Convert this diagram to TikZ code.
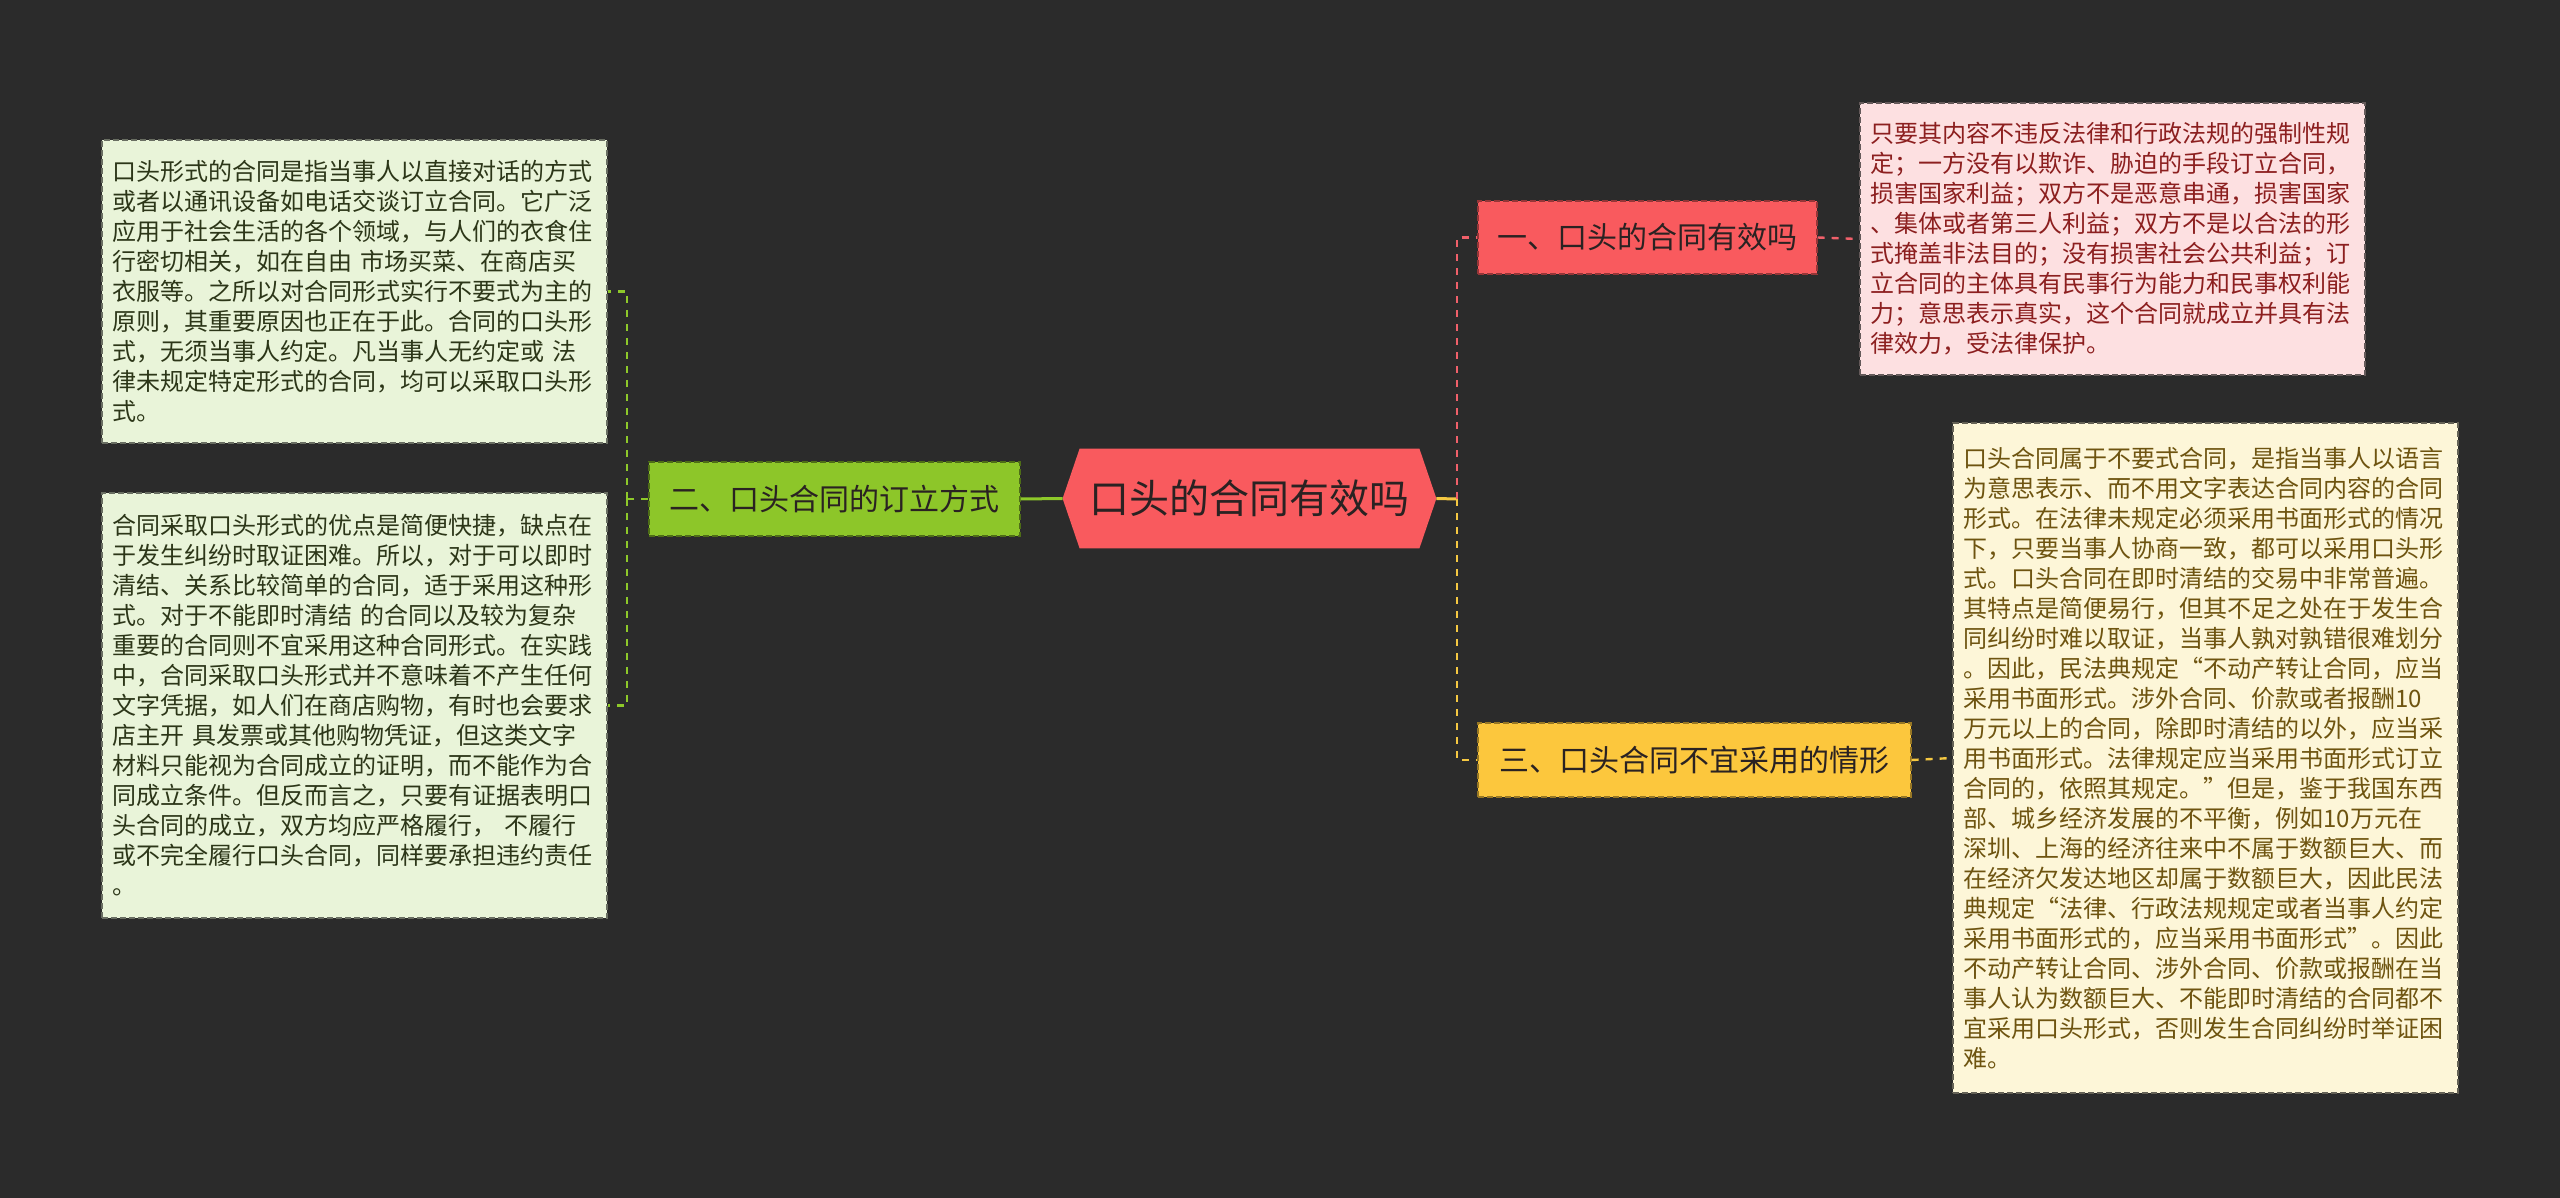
\documentclass[tikz,border=0pt]{standalone}
\usepackage{fontspec}
\newfontfamily\cjk{Noto Sans CJK SC}
\usetikzlibrary{calc,backgrounds}
\definecolor{bg}{HTML}{2B2B2B}
\definecolor{cfill}{HTML}{F95A5E}
\definecolor{gfill}{HTML}{8DC629}
\definecolor{gline}{HTML}{8EC92A}
\definecolor{yfill}{HTML}{FCC73D}
\definecolor{yline}{HTML}{F5C842}
\definecolor{rline}{HTML}{F0606A}
\definecolor{lfill}{HTML}{E9F4D9}
\definecolor{ltext}{HTML}{2C3618}
\definecolor{rtfill}{HTML}{FDE0E1}
\definecolor{rttext}{HTML}{8C1F1F}
\definecolor{rbfill}{HTML}{FDF6D8}
\definecolor{rbtext}{HTML}{6E5410}
\definecolor{ntext}{HTML}{2A2222}
\tikzset{
  textbox/.style={draw, dash pattern=on 3pt off 1.5pt, line width=0.6pt, align=left,
    text width=242pt, inner xsep=5pt, font=\cjk\fontsize{12}{15}\selectfont},
  lbox/.style={textbox, fill=lfill, draw=lfill!45!black, text=ltext,
    minimum width=252.5pt},
  rtbox/.style={textbox, fill=rtfill, draw=rtfill!40!black, text=rttext,
    minimum width=252.5pt},
  rbbox/.style={textbox, fill=rbfill, draw=rbfill!40!black, text=rbtext,
    minimum width=252.5pt},
  branch/.style={draw, dash pattern=on 3pt off 1.5pt, line width=0.6pt,
    font=\cjk\fontsize{15}{18}\selectfont, text=ntext, inner sep=0pt},
  mainnode/.style={inner sep=0pt, minimum width=186.5pt, minimum height=49.5pt,
    font=\cjk\fontsize{20}{24}\selectfont, text=ntext},
  dashline/.style={line width=1.2pt, dash pattern=on 3.5pt off 3.5pt},
  solidline/.style={line width=1.5pt}
}
\begin{document}
\begin{tikzpicture}[x=0.5pt,y=-0.5pt]
\begin{scope}[on background layer]
\fill[bg] (0,0) rectangle (2560,1198);
\end{scope}
\useasboundingbox (0,0) rectangle (2560,1198);

% left boxes
\node[lbox, minimum height=151.5pt] (l1) at (354.5,291.5) {口头形式的合同是指当事人以直接对话的方式\\或者以通讯设备如电话交谈订立合同。它广泛\\应用于社会生活的各个领域，与人们的衣食住\\行密切相关，如在自由 市场买菜、在商店买\\衣服等。之所以对合同形式实行不要式为主的\\原则，其重要原因也正在于此。合同的口头形\\式，无须当事人约定。凡当事人无约定或 法\\律未规定特定形式的合同，均可以采取口头形\\式。};
\node[lbox, minimum height=212.5pt] (l2) at (354.5,705.5) {合同采取口头形式的优点是简便快捷，缺点在\\于发生纠纷时取证困难。所以，对于可以即时\\清结、关系比较简单的合同，适于采用这种形\\式。对于不能即时清结 的合同以及较为复杂\\重要的合同则不宜采用这种合同形式。在实践\\中，合同采取口头形式并不意味着不产生任何\\文字凭据，如人们在商店购物，有时也会要求\\店主开 具发票或其他购物凭证，但这类文字\\材料只能视为合同成立的证明，而不能作为合\\同成立条件。但反而言之，只要有证据表明口\\头合同的成立，双方均应严格履行， 不履行\\或不完全履行口头合同，同样要承担违约责任\\。};

% right boxes
\node[rtbox, minimum height=136pt] (rt) at (2112.5,239) {只要其内容不违反法律和行政法规的强制性规\\定；一方没有以欺诈、胁迫的手段订立合同，\\损害国家利益；双方不是恶意串通，损害国家\\、集体或者第三人利益；双方不是以合法的形\\式掩盖非法目的；没有损害社会公共利益；订\\立合同的主体具有民事行为能力和民事权利能\\力；意思表示真实，这个合同就成立并具有法\\律效力，受法律保护。};
\node[rbbox, minimum height=335pt] (rb) at (2205.5,758) {口头合同属于不要式合同，是指当事人以语言\\为意思表示、而不用文字表达合同内容的合同\\形式。在法律未规定必须采用书面形式的情况\\下，只要当事人协商一致，都可以采用口头形\\式。口头合同在即时清结的交易中非常普遍。\\其特点是简便易行，但其不足之处在于发生合\\同纠纷时难以取证，当事人孰对孰错很难划分\\。因此，民法典规定“不动产转让合同，应当\\采用书面形式。涉外合同、价款或者报酬10\\万元以上的合同，除即时清结的以外，应当采\\用书面形式。法律规定应当采用书面形式订立\\合同的，依照其规定。”但是，鉴于我国东西\\部、城乡经济发展的不平衡，例如10万元在\\深圳、上海的经济往来中不属于数额巨大、而\\在经济欠发达地区却属于数额巨大，因此民法\\典规定“法律、行政法规规定或者当事人约定\\采用书面形式的，应当采用书面形式”。因此\\不动产转让合同、涉外合同、价款或报酬在当\\事人认为数额巨大、不能即时清结的合同都不\\宜采用口头形式，否则发生合同纠纷时举证困\\难。};

% branch nodes
\node[branch, fill=gfill, draw=gfill!55!black, minimum width=185.5pt, minimum height=37pt] (g) at (834.5,499) {二、口头合同的订立方式};
\node[branch, fill=cfill, draw=cfill!60!black, minimum width=169.5pt, minimum height=36.5pt] (r) at (1647.5,237.5) {一、口头的合同有效吗};
\node[branch, fill=yfill, draw=yfill!60!black, minimum width=216.5pt, minimum height=37pt] (y) at (1694.5,760) {三、口头合同不宜采用的情形};

% central node
\node[mainnode] (c) at (1249.5,498.5) {口头的合同有效吗};
\begin{scope}[on background layer]
\fill[cfill] (c.west) -- ($(c.north west)+(17,0)$) -- ($(c.north east)+(-17,0)$) -- (c.east)
  -- ($(c.south east)+(-17,0)$) -- ($(c.south west)+(17,0)$) -- cycle;
\end{scope}

% junctions
\coordinate (jl) at (627,499);
\coordinate (jr) at (1457,499);

% connectors
\draw[solidline, gline] (c.west) -- (g.east);
\draw[dashline, gline] (g.west) -- (jl);
\draw[dashline, gline] (jl) |- (l1.east);
\draw[dashline, gline] (jl) |- (l2.east);
\draw[solidline, yline] (c.east) -- (jr);
\draw[dashline, rline] (jr) |- (r.west);
\draw[dashline, yline] (jr) |- (y.west);
\draw[dashline, rline] (r.east) -- (rt.west);
\draw[dashline, yline] (y.east) -- (rb.west);
\end{tikzpicture}
\end{document}
